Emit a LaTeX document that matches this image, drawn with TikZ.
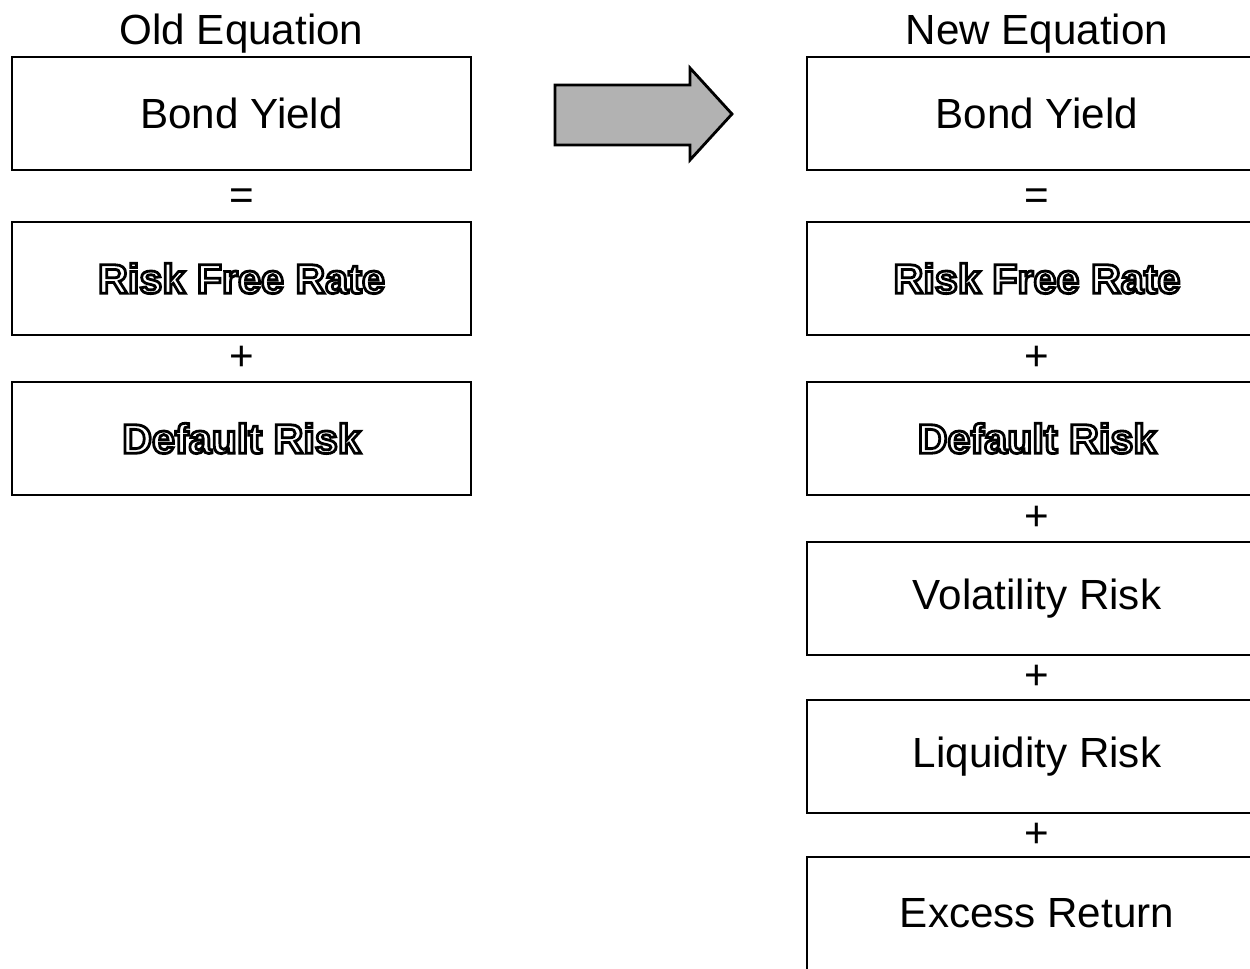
\documentclass[tikz,border=0pt]{standalone}
\usepackage{fontspec}
\setmainfont{Liberation Sans}
\usetikzlibrary{positioning, calc}

% outlined letters: stroke and fill in white
\newcommand{\hollowtext}[1]{{\bfseries\fontsize{23.5}{28}\selectfont\special{pdf:literal direct 2 Tr 1.6 w 0 G 1 g}#1\special{pdf:literal direct 0 Tr 0 g}}}

\begin{document}
\begin{tikzpicture}[
	every node/.style={font=\fontsize{24}{28}\selectfont},
	termbox/.style={draw, line width=1.4pt, minimum width=9.18cm, minimum height=2.26cm, inner sep=0pt},
	newbox/.style={termbox, minimum width=9.2cm},
	sign/.style={inner sep=0pt},
	title/.style={inner sep=0pt},
	shiftarrow/.style={draw, line width=1.6pt, fill=gray!60, line join=miter}
	]
	\clip (0,0) rectangle (25,-19.36);
	
	% --- OLD EQUATION ---
	\node[termbox] (oldyield) at (4.83,-2.27) {Bond Yield};
	\node[termbox] (oldfree) [below=0.99cm of oldyield] {\hollowtext{Risk Free Rate}};
	\node[termbox] (olddefault) [below=0.89cm of oldfree] {\hollowtext{Default Risk}};
	\node[title] (oldtitle) [above=0.04cm of oldyield] {Old Equation};
	\node[sign] (oldeq) at ($(oldyield.south)!.5!(oldfree.north)$) [yshift=-0.06cm] {=};
	\node[sign] (oldplus) at ($(oldfree.south)!.5!(olddefault.north)$) {+};
	
	% --- NEW EQUATION ---
	\node[newbox] (newyield) at (20.74,-2.27) {Bond Yield};
	\node[newbox] (newfree) [below=0.99cm of newyield] {\hollowtext{Risk Free Rate}};
	\node[newbox] (newdefault) [below=0.89cm of newfree] {\hollowtext{Default Risk}};
	\node[newbox] (newvol) [below=0.89cm of newdefault] {Volatility Risk};
	\node[newbox] (newliq) [below=0.85cm of newvol] {Liquidity Risk};
	\node[newbox] (newexcess) [below=0.83cm of newliq] {Excess Return};
	\node[title] (newtitle) [above=0.04cm of newyield] {New Equation};
	\node[sign] (neweq) at ($(newyield.south)!.5!(newfree.north)$) [yshift=-0.06cm] {=};
	\node[sign] (newplusa) at ($(newfree.south)!.5!(newdefault.north)$) {+};
	\node[sign] (newplusb) at ($(newdefault.south)!.5!(newvol.north)$) {+};
	\node[sign] (newplusc) at ($(newvol.south)!.5!(newliq.north)$) {+};
	\node[sign] (newplusd) at ($(newliq.south)!.5!(newexcess.north)$) {+};
	
	% --- ARROW ---
	\draw[shiftarrow] (11.1,-1.7) -- (13.8,-1.7) -- (13.8,-1.36) -- (14.64,-2.28)
		-- (13.8,-3.2) -- (13.8,-2.9) -- (11.1,-2.9) -- cycle;
	
\end{tikzpicture}
\end{document}
